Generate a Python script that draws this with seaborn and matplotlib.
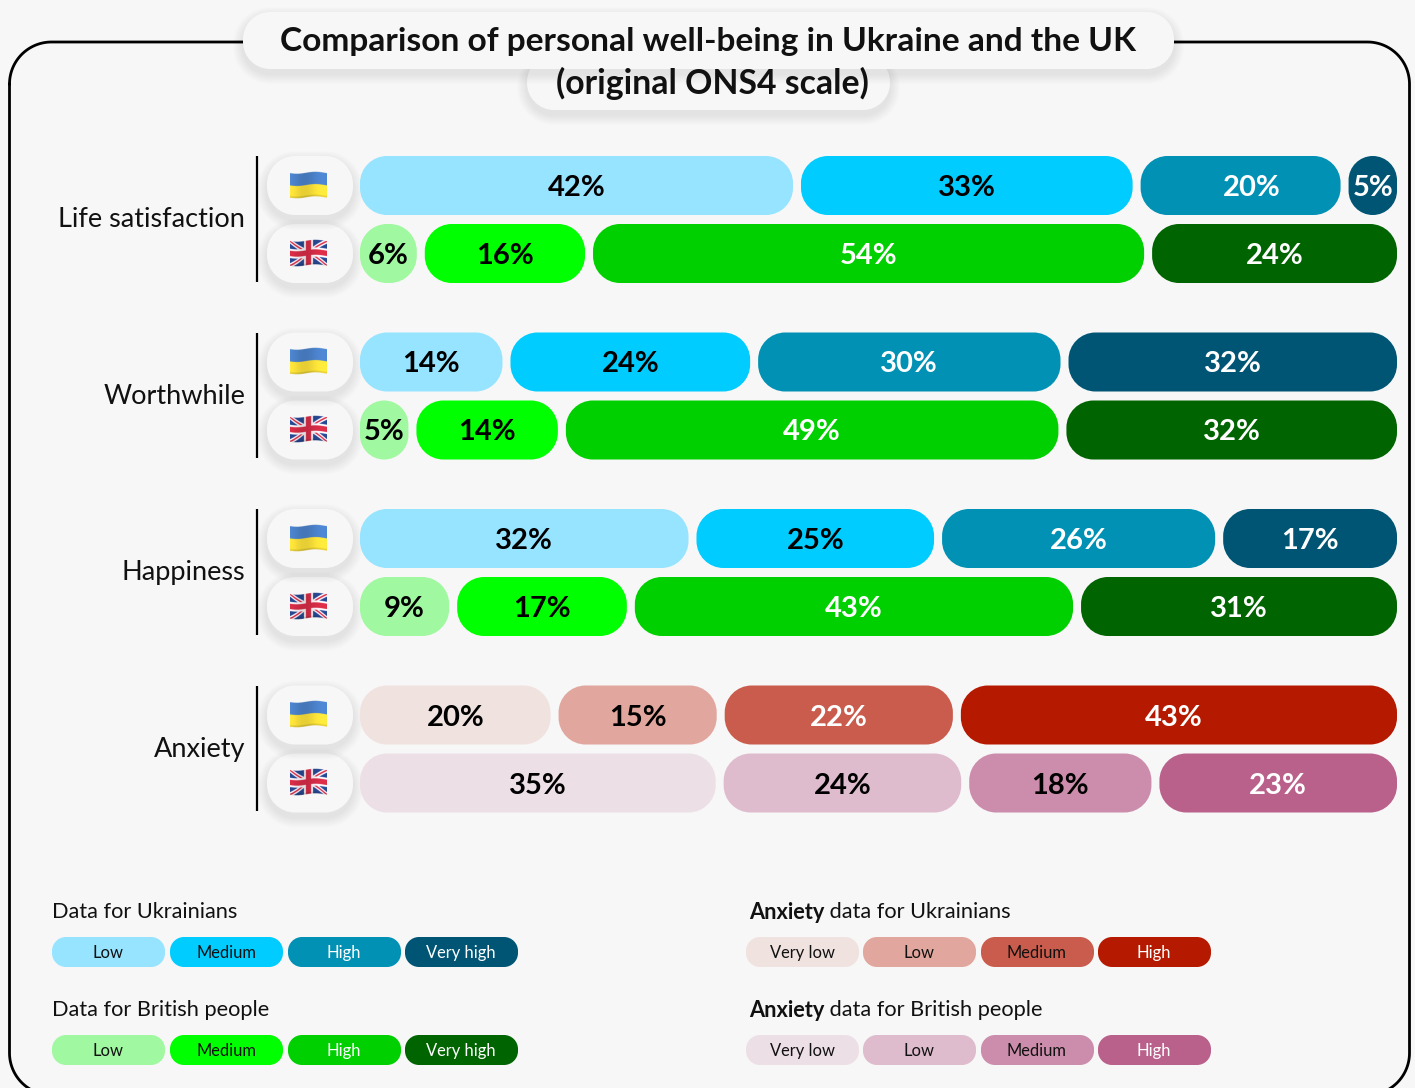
import numpy as np
import pandas as pd
import seaborn as sns
import matplotlib.pyplot as plt
from matplotlib.path import Path
from matplotlib.patches import FancyBboxPatch

# data
measures = ['Life satisfaction', 'Worthwhile', 'Happiness', 'Anxiety']
countries = ['Ukraine', 'UK']

# printed percentages
labels_ua = [[42, 33, 20, 5], [14, 24, 30, 32], [32, 25, 26, 17], [20, 15, 22, 43]]
labels_uk = [[6, 16, 54, 24], [5, 14, 49, 32], [9, 17, 43, 31], [35, 24, 18, 23]]

# unrounded shares
shares_ua = [[42.2, 32.5, 19.9, 5.4], [14.4, 23.7, 29.7, 32.2],
             [32.2, 23.5, 26.9, 17.4], [19.0, 15.9, 22.6, 42.5]]
shares_uk = [[6.2, 16.1, 53.5, 24.2], [5.4, 14.3, 47.9, 32.4],
             [9.3, 17.0, 42.7, 31.0], [34.8, 23.5, 18.2, 23.5]]

blues = ['#96e4ff', '#00ccff', '#0091b5', '#005574']
greens = ['#a0f9a0', '#00ff00', '#00d000', '#006400']
reds = ['#f0e2df', '#e1a79e', '#c95c4c', '#b51a00']
pinks = ['#eddfe6', '#dfbccd', '#cb8dab', '#b9608b']

ink_ua = ['black', 'black', 'white', 'white']
ink_uk = ['black', 'black', 'white', 'white']
ink_anx_ua = ['black', 'black', 'white', 'white']
ink_anx_uk = ['black', 'black', 'black', 'white']

legend_levels = ['Low', 'Medium', 'High', 'Very high']
legend_levels_anx = ['Very low', 'Low', 'Medium', 'High']
legend_ink = ['#111111', '#111111', 'white', 'white']
legend_ink_anx = ['#111111', '#111111', '#111111', 'white']

BG = '#f7f7f7'
W, H = 1415, 1088
PX_PER_UNIT = 10.45
PITCH = 68
BAR_H = 59
GAP = 8

sns.set_theme(style='white')
plt.rcParams['font.family'] = ['Lato', 'DejaVu Sans']

fig = plt.figure(figsize=(W / 100, H / 100), dpi=100, facecolor=BG)
base = fig.add_axes([0, 0, 1, 1], facecolor=BG)
base.set_xlim(0, W)
base.set_ylim(H, 0)
base.axis('off')


def round_box(r):
    # boxstyle with circular corners, the built-in one looks too square
    def style(x0, y0, w, h, mutation_size):
        x1, y1 = x0 + w, y0 + h
        c = r * (1 - 0.5523)
        verts = [(x0 + r, y0), (x1 - r, y0),
                 (x1 - c, y0), (x1, y0 + c), (x1, y0 + r),
                 (x1, y1 - r),
                 (x1, y1 - c), (x1 - c, y1), (x1 - r, y1),
                 (x0 + r, y1),
                 (x0 + c, y1), (x0, y1 - c), (x0, y1 - r),
                 (x0, y0 + r),
                 (x0, y0 + c), (x0 + c, y0), (x0 + r, y0),
                 (x0 + r, y0)]
        codes = [Path.MOVETO, Path.LINETO,
                 Path.CURVE4, Path.CURVE4, Path.CURVE4,
                 Path.LINETO,
                 Path.CURVE4, Path.CURVE4, Path.CURVE4,
                 Path.LINETO,
                 Path.CURVE4, Path.CURVE4, Path.CURVE4,
                 Path.LINETO,
                 Path.CURVE4, Path.CURVE4, Path.CURVE4,
                 Path.CLOSEPOLY]
        return Path(verts, codes)
    return style


def pill(x0, y0, x1, y1, r, color, z=2, **kw):
    p = FancyBboxPatch((x0, y0), x1 - x0, y1 - y0, boxstyle=round_box(r),
                       fc=color, ec='none', zorder=z, **kw)
    base.add_patch(p)
    return p


def shadow_pill(x0, y0, x1, y1, r, z=2):
    # soft drop shadow made of stacked see-through pills
    for s in range(10, 0, -1):
        pill(x0 - s, y0 + 5 - s, x1 + s, y1 + 5 + s, r + s, 'black', z=z, alpha=0.009)
    pill(x0, y0, x1, y1, r, BG, z=z)


def flag_image(kind):
    h, w = 260, 400
    yy, xx = np.mgrid[0:h, 0:w]
    u = xx / (w - 1)
    y = yy / (h - 1)
    wave = 0.035 * np.sin(2 * np.pi * u + 0.4)
    v = (y - wave - 0.06) / 0.88
    img = np.zeros((h, w, 4))
    inside = (v >= 0) & (v <= 1)
    if kind == 'Ukraine':
        img[..., :3] = np.where((v < 0.5)[..., None], [0.29, 0.50, 0.78], [0.97, 0.87, 0.22])
    else:
        img[..., :3] = [0.15, 0.27, 0.55]
        d1 = np.abs((v - 0.5) - (u - 0.5))
        d2 = np.abs((v - 0.5) + (u - 0.5))
        diag = np.minimum(d1, d2)
        cross = np.minimum(np.abs(u - 0.5) * 1.55, np.abs(v - 0.5))
        img[diag < 0.10, :3] = [0.95, 0.93, 0.95]
        img[diag < 0.035, :3] = [0.82, 0.17, 0.27]
        img[cross < 0.19, :3] = [0.95, 0.93, 0.95]
        img[cross < 0.11, :3] = [0.82, 0.17, 0.27]
    shade = 1 + 0.07 * np.sin(2 * np.pi * u + 2.2) - 0.12 * (v > 0.93)
    img[..., :3] = np.clip(img[..., :3] * shade[..., None], 0, 1)
    img[..., 3] = inside
    return img


def draw_group(i, measure):
    top = 156 + i * 176.5
    axes_h = BAR_H + PITCH
    # axes spans 0..100 along the full track, two category rows
    ax = fig.add_axes([360 / W, 1 - (top + axes_h) / H,
                       100 * PX_PER_UNIT / W, axes_h / H], facecolor='none')

    ua = np.array(shares_ua[i])
    uk = np.array(shares_uk[i])
    left_ua = np.concatenate([[0], np.cumsum(ua)[:-1]])
    left_uk = np.concatenate([[0], np.cumsum(uk)[:-1]])
    for j in range(4):
        df = pd.DataFrame({'country': countries, 'share': [ua[j], uk[j]]})
        sns.barplot(data=df, x='share', y='country', order=countries, orient='h',
                    left=[left_ua[j], left_uk[j]], width=BAR_H / PITCH,
                    errorbar=None, color='grey', ax=ax)
    half = BAR_H / PITCH / 2
    ax.set_xlim(0, 100)
    ax.set_ylim(1 + half, -half)
    ax.axis('off')

    if measure == 'Anxiety':
        cols = [reds, pinks]
        inks = [ink_anx_ua, ink_anx_uk]
    else:
        cols = [blues, greens]
        inks = [ink_ua, ink_uk]
    labs = [labels_ua[i], labels_uk[i]]

    gap = GAP / PX_PER_UNIT
    seen = [0, 0]
    for rect in list(ax.patches):
        x, y, w, h = rect.get_x(), rect.get_y(), rect.get_width(), rect.get_height()
        row = int(round(y + h / 2))
        j = seen[row]
        seen[row] += 1
        rect.remove()
        w_px = (w - gap) * PX_PER_UNIT
        r = min(27, w_px / 2) / PX_PER_UNIT
        ax.add_patch(FancyBboxPatch((x, y), w - gap, h, boxstyle=round_box(r),
                                    mutation_aspect=PX_PER_UNIT / PITCH,
                                    fc=cols[row][j], ec='none', clip_on=False))
        # the source has a few labels sitting off-centre
        nudge = 0
        if labs[row][j] == 20 and i == 0:
            nudge = 11 / PX_PER_UNIT
        if labs[row][j] == 43 and i == 3:
            nudge = -5 / PX_PER_UNIT
        ax.text(x + (w - gap) / 2 + nudge, y + h / 2 + 2.5 / PITCH, f'{labs[row][j]}%',
                ha='center', va='center', fontsize=21, fontweight='bold',
                color=inks[row][j], clip_on=False)

    # left side: measure name, rule, flag pills
    base.text(245, top + 63.5, measure, ha='right', va='center', fontsize=19.5, color='#111111')
    base.plot([257, 257], [top + 0.3, top + axes_h - 1.5], color='black', lw=1.6,
              solid_capstyle='butt', zorder=3)
    for row, c in enumerate(countries):
        y0 = top + row * PITCH
        shadow_pill(267, y0, 353, y0 + BAR_H, 28, z=2 + (row == 0))
        base.imshow(flag_image(c), extent=(290, 327, y0 + 43, y0 + 15),
                    aspect='auto', zorder=4)


def frame_line(x0, y0, x1, y1, r):
    # rounded outline as a plain polyline, its bottom runs past the canvas
    t = np.linspace(0, np.pi / 2, 30)
    xs = np.r_[x0 + r - r * np.cos(t), x1 - r + r * np.sin(t),
               x1 - r + r * np.cos(t), x0 + r - r * np.sin(t), x0]
    ys = np.r_[y0 + r - r * np.sin(t), y0 + r - r * np.cos(t),
               y1 - r + r * np.sin(t), y1 - r + r * np.cos(t), y0 + r]
    base.plot(xs, ys, color='black', lw=2.0, zorder=1)


frame_line(9.5, 42, 1409.5, 1095, 42)

shadow_pill(527, 55, 890, 110, 27, z=2)
shadow_pill(243, 12, 1174, 69, 27, z=3)
base.text(708.5, 41, 'Comparison of personal well-being in Ukraine and the UK', ha='center',
          va='center', fontsize=24.1, fontweight='bold', color='#111111', zorder=5)
base.text(712.5, 83.5, '(original ONS4 scale)', ha='center', va='center',
          fontsize=24.3, fontweight='bold', color='#111111', zorder=5)

for i, m in enumerate(measures):
    draw_group(i, m)


def legend_row(x_pills, y, names, colors, inks):
    for x0, name, col, ink in zip(x_pills, names, colors, inks):
        pill(x0, y, x0 + 113, y + 30, 14, col)
        base.text(x0 + 56, y + 16, name, ha='center', va='center',
                  fontsize=11.9, color=ink, zorder=5)


left_x = [52, 170, 288, 405]
right_x = [746, 863, 981, 1098]
base.text(52, 912.5, 'Data for Ukrainians', va='center', fontsize=15.7, color='#111111')
legend_row(left_x, 937, legend_levels, blues, legend_ink)
base.text(52, 1010.5, 'Data for British people', va='center', fontsize=15.7, color='#111111')
legend_row(left_x, 1035, legend_levels, greens, legend_ink)

for y, rest, cols in [(912.5, ' data for Ukrainians', reds), (1010.5, ' data for British people', pinks)]:
    bold = base.text(749, y, 'Anxiety', va='center', fontsize=15.7, fontweight='bold', color='#111111')
    base.annotate(rest, xy=(1, 0.5), xycoords=bold, va='center', fontsize=15.7, color='#111111')
    legend_row(right_x, y + 24.5, legend_levels_anx, cols, legend_ink_anx)

base.set_xlim(0, W)
base.set_ylim(H, 0)

fig.savefig('out.png', dpi=100, facecolor=BG)
